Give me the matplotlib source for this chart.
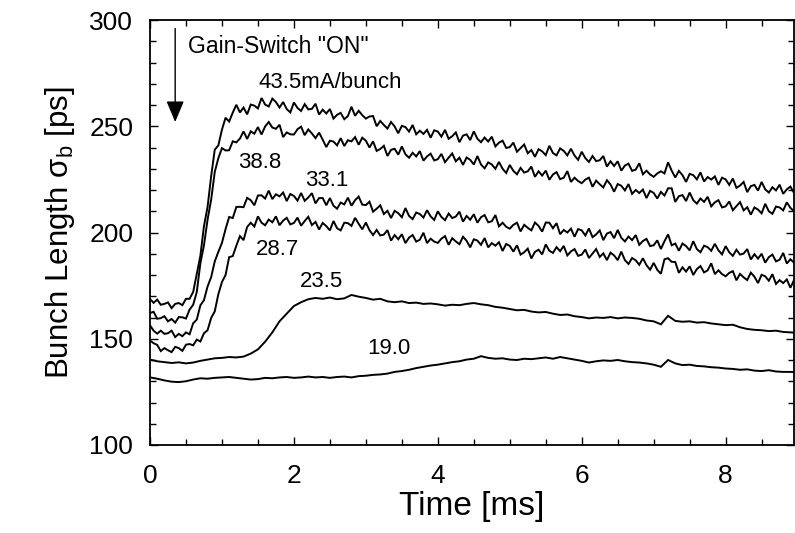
import numpy as np
import matplotlib
matplotlib.use("Agg")
import matplotlib.pyplot as plt
from matplotlib.ticker import MultipleLocator

plt.rcParams['font.family'] = ['Liberation Sans', 'DejaVu Sans']
plt.rcParams['mathtext.fontset'] = 'custom'
plt.rcParams['mathtext.rm'] = 'Liberation Sans'
plt.rcParams['mathtext.it'] = 'Liberation Sans:italic'

# Sampling grids of the recorded traces [ms]
STEP_FINE = 0.05
STEP_COARSE = 0.1
time_fine = np.round(np.arange(180) * STEP_FINE, 2)
time_coarse = np.round(np.arange(91) * STEP_COARSE, 2)

# Bunch length sigma_b [ps] per stored current
current_labels = ["43.5mA/bunch", "38.8", "33.1", "28.7", "23.5", "19.0"]

sigma_435 = [
    168.7, 166.9, 168.4, 166.0, 166.4, 167.1, 164.4, 166.4, 166.8, 165.8, 168.8, 168.8, 172.0, 180.5, 189.0, 203.0, 212.0, 226.5, 239.0, 241.0,
    248.4, 254.0, 252.2, 256.4, 260.1, 256.5, 258.8, 255.6, 260.2, 259.7, 258.4, 263.3, 260.2, 259.3, 263.0, 261.4, 258.8, 261.4, 258.1, 256.5,
    261.2, 258.6, 257.2, 260.4, 257.9, 258.2, 260.6, 255.5, 257.8, 256.0, 258.1, 253.6, 255.4, 256.3, 253.3, 254.8, 259.2, 254.9, 257.3, 255.2,
    253.6, 254.6, 254.8, 250.0, 252.5, 250.6, 248.9, 252.0, 249.9, 246.7, 250.2, 249.6, 247.5, 250.6, 246.2, 247.9, 246.4, 248.3, 244.6, 248.1,
    247.5, 245.1, 248.3, 244.1, 245.3, 247.1, 242.5, 245.6, 246.2, 243.5, 247.6, 244.1, 242.5, 244.7, 242.8, 245.1, 240.5, 242.3, 243.2, 239.8,
    240.2, 242.3, 238.0, 239.7, 241.4, 237.3, 238.8, 235.6, 239.2, 238.2, 236.4, 240.8, 237.4, 236.3, 239.6, 238.4, 236.3, 239.4, 236.2, 234.2,
    238.0, 235.0, 233.2, 236.0, 233.6, 234.0, 236.0, 231.0, 233.5, 231.3, 233.5, 229.1, 231.5, 232.4, 229.0, 229.6, 232.6, 227.4, 229.1, 227.3,
    226.2, 227.8, 228.8, 227.8, 233.0, 229.1, 225.9, 229.0, 227.0, 223.8, 227.6, 227.0, 225.0, 228.3, 224.0, 226.1, 224.9, 226.4, 222.4, 225.8,
    225.0, 222.4, 225.4, 221.0, 222.1, 223.8, 219.0, 221.8, 222.4, 219.7, 223.8, 220.3, 218.8, 221.3, 219.8, 222.5, 218.2, 220.3, 221.6, 218.6,
]

sigma_388 = [
    162.1, 162.7, 159.4, 159.7, 160.6, 158.2, 159.3, 157.6, 160.2, 160.1, 159.5, 163.7, 166.0, 172.0, 185.5, 194.0, 206.0, 215.5, 228.5, 235.0,
    239.7, 238.6, 238.7, 242.9, 242.4, 244.2, 247.6, 244.0, 247.6, 246.5, 249.6, 246.1, 249.9, 252.0, 249.4, 248.8, 250.7, 244.9, 247.1, 246.2,
    246.1, 248.6, 249.8, 245.8, 248.5, 246.6, 244.4, 247.0, 243.7, 240.2, 243.2, 242.8, 241.0, 244.4, 240.7, 243.4, 242.9, 244.9, 241.3, 244.6,
    243.2, 240.0, 242.9, 238.4, 239.3, 240.8, 236.0, 238.9, 239.4, 236.6, 240.5, 236.8, 235.2, 237.5, 235.8, 238.3, 233.8, 235.8, 237.1, 233.9,
    234.5, 237.0, 233.1, 235.2, 237.2, 233.5, 235.2, 231.8, 235.3, 234.2, 232.0, 236.0, 232.0, 230.2, 233.0, 232.0, 230.0, 233.2, 230.0, 228.0,
    231.8, 229.0, 227.4, 230.4, 228.2, 228.8, 231.0, 226.2, 228.8, 226.8, 229.1, 224.8, 227.3, 228.4, 225.1, 225.8, 228.9, 223.8, 225.8, 224.2,
    223.2, 224.9, 225.8, 221.5, 224.4, 222.7, 221.2, 224.6, 222.6, 219.2, 222.8, 222.0, 219.8, 222.8, 218.2, 220.0, 218.6, 220.2, 216.2, 219.6,
    218.6, 216.0, 219.1, 217.4, 220.8, 220.8, 214.4, 217.1, 217.6, 214.8, 218.8, 215.2, 213.6, 216.0, 214.4, 216.8, 212.3, 214.2, 215.2, 211.8,
    212.3, 214.6, 210.5, 212.4, 214.3, 210.4, 211.9, 208.4, 211.8, 210.8, 209.0, 213.5, 210.0, 208.8, 212.2, 211.8, 210.4, 214.2, 211.6, 210.0,
]

sigma_331 = [
    156.3, 153.8, 152.4, 153.8, 152.3, 152.6, 153.8, 150.8, 152.3, 151.2, 153.0, 152.1, 157.3, 159.0, 165.7, 168.2, 174.6, 179.0, 186.4, 190.9,
    195.1, 201.6, 207.3, 206.8, 212.0, 212.1, 211.9, 216.3, 215.2, 212.8, 217.4, 217.5, 216.0, 219.7, 215.7, 218.0, 217.0, 218.8, 214.8, 218.1,
    217.2, 215.0, 218.6, 214.9, 216.5, 218.5, 213.7, 216.2, 216.2, 212.8, 216.2, 212.6, 211.2, 214.1, 213.2, 216.4, 212.6, 215.2, 216.9, 213.1,
    212.9, 214.5, 209.8, 211.2, 212.8, 208.7, 210.2, 206.8, 210.2, 209.1, 207.2, 211.5, 207.8, 206.3, 209.4, 208.7, 207.0, 210.5, 207.6, 205.9,
    210.0, 207.3, 205.8, 208.9, 206.8, 207.5, 209.8, 205.1, 207.8, 206.0, 208.6, 204.6, 207.2, 208.2, 204.8, 205.3, 208.2, 202.9, 204.6, 202.7,
    201.8, 203.6, 204.6, 200.5, 203.6, 202.2, 201.0, 204.7, 203.1, 200.4, 204.7, 204.6, 202.0, 204.4, 199.2, 201.2, 200.0, 201.8, 198.0, 201.6,
    201.0, 198.6, 201.9, 197.8, 199.1, 201.0, 196.4, 199.5, 200.2, 197.3, 201.2, 197.5, 195.8, 198.1, 196.4, 198.8, 194.2, 196.0, 197.0, 193.6,
    194.0, 196.3, 192.2, 195.9, 199.1, 194.0, 194.8, 191.4, 194.8, 193.6, 191.6, 195.9, 192.2, 190.7, 193.8, 193.1, 191.4, 194.7, 191.6, 189.7,
    193.6, 190.7, 189.0, 191.9, 189.6, 190.1, 192.2, 187.3, 189.8, 187.7, 190.0, 185.8, 188.4, 189.6, 186.4, 187.2, 190.4, 185.4, 187.4, 185.8,
]

sigma_287 = [
    149.2, 147.9, 147.1, 144.2, 145.6, 144.6, 143.7, 146.2, 145.6, 144.3, 147.2, 147.5, 146.9, 149.6, 148.7, 152.6, 154.0, 159.8, 162.9, 171.0,
    176.7, 180.0, 188.4, 188.9, 193.8, 198.3, 196.4, 202.6, 204.6, 202.8, 207.6, 204.6, 203.4, 206.1, 204.8, 207.6, 203.4, 205.6, 206.9, 203.8,
    204.5, 207.0, 203.2, 205.4, 207.4, 203.5, 205.0, 201.4, 204.5, 203.0, 201.0, 205.4, 202.0, 201.0, 204.6, 204.4, 203.1, 206.9, 204.1, 201.5,
    204.7, 201.1, 198.8, 201.2, 198.6, 199.0, 201.1, 196.2, 198.8, 196.8, 199.2, 195.0, 197.6, 198.8, 195.7, 196.6, 199.9, 195.0, 197.1, 195.7,
    195.1, 197.1, 198.3, 194.2, 197.3, 195.8, 194.5, 198.0, 196.1, 193.0, 196.8, 196.2, 194.2, 197.4, 193.0, 195.0, 193.8, 195.4, 191.3, 194.6,
    193.7, 191.0, 194.0, 189.6, 190.7, 192.4, 187.8, 190.9, 191.9, 189.7, 194.4, 191.4, 190.4, 193.1, 191.2, 193.7, 189.2, 191.1, 192.2, 189.0,
    189.6, 192.0, 188.0, 190.1, 192.2, 188.5, 190.2, 187.0, 190.5, 189.2, 187.0, 191.0, 187.0, 185.2, 188.0, 186.9, 184.8, 187.9, 184.6, 182.5,
    185.7, 182.4, 180.6, 187.4, 187.9, 186.2, 186.1, 181.0, 183.6, 181.6, 184.1, 180.0, 182.8, 184.2, 181.2, 182.2, 185.5, 180.4, 182.2, 180.4,
    179.4, 181.0, 181.8, 177.5, 180.5, 178.9, 177.6, 181.1, 179.2, 176.2, 180.1, 179.4, 177.3, 180.4, 175.8, 177.6, 176.2, 177.9, 174.0, 177.6,
]

sigma_235 = [
    140.2, 139.4, 139.0, 138.6, 138.9, 138.4, 138.8, 139.6, 140.2, 140.8,
    141.0, 141.4, 141.2, 141.6, 143.0, 145.0, 148.6, 153.0, 158.2, 161.8,
    165.4, 167.2, 168.6, 169.2, 168.8, 169.4, 168.6, 169.0, 170.6, 169.8,
    169.2, 168.4, 168.8, 167.6, 167.2, 167.6, 166.8, 167.0, 166.4, 166.6,
    166.2, 165.6, 166.0, 165.8, 166.4, 166.8, 166.2, 165.8, 165.0, 164.6,
    164.0, 163.4, 163.6, 162.8, 162.4, 162.6, 161.8, 161.2, 161.4, 160.6,
    160.2, 159.6, 160.0, 159.8, 160.2, 159.6, 160.0, 159.8, 159.4, 158.6,
    158.2, 156.8, 160.8, 158.4, 158.0, 158.2, 157.6, 157.8, 157.2, 156.8,
    156.4, 156.6, 155.4, 154.6, 154.2, 154.0, 153.6, 153.8, 153.2, 153.0, 152.8,
]

sigma_190 = [
    131.8, 131.2, 130.4, 129.8, 129.6, 130.0, 130.8, 131.4, 131.2, 131.6,
    131.8, 132.0, 131.6, 131.2, 130.8, 131.0, 131.6, 131.4, 131.8, 132.0,
    131.6, 131.8, 132.2, 131.8, 132.0, 131.6, 132.0, 132.2, 131.8, 132.4,
    132.6, 133.0, 133.2, 133.6, 134.4, 134.8, 135.4, 136.2, 136.8, 137.4,
    137.8, 138.4, 139.0, 139.4, 140.2, 140.6, 141.8, 141.0, 140.6, 140.8,
    140.2, 140.0, 140.6, 140.4, 140.8, 141.2, 140.6, 141.4, 140.8, 140.2,
    139.6, 138.8, 139.4, 139.8, 139.6, 140.0, 139.4, 139.0, 138.8, 138.4,
    137.8, 136.8, 140.0, 138.4, 137.6, 137.8, 137.2, 137.0, 136.6, 136.4,
    136.0, 135.8, 135.4, 135.6, 135.0, 134.8, 135.2, 134.6, 134.4, 134.4, 134.2,
]

x_ticks = [0, 2, 4, 6, 8]
y_ticks = [100, 150, 200, 250, 300]

fig = plt.figure(figsize=(7.95, 5.33), dpi=100)
ax = fig.add_axes([150 / 795, 88 / 533, 644 / 795, 425 / 533])

traces = [
    (time_fine, sigma_435),
    (time_fine, sigma_388),
    (time_fine, sigma_331),
    (time_fine, sigma_287),
    (time_coarse, sigma_235),
    (time_coarse, sigma_190),
]
for t, s in traces:
    ax.plot(t, s, color='black', lw=1.4, solid_joinstyle='miter')

ax.set_xlim(0, 8.95)
ax.set_ylim(100, 300)
ax.set_xticks(x_ticks)
ax.set_yticks(y_ticks)
ax.xaxis.set_minor_locator(MultipleLocator(0.5))
ax.yaxis.set_minor_locator(MultipleLocator(10))
ax.tick_params(which='both', direction='in', top=True, right=True, width=1.0, colors='black')
ax.tick_params(which='major', length=6)
ax.tick_params(which='minor', length=4)
ax.tick_params(axis='both', which='major', labelsize=19)
ax.tick_params(axis='y', pad=12)
ax.tick_params(axis='x', pad=14)
for sp in ax.spines.values():
    sp.set_linewidth(1.3)

ax.set_xlabel('Time [ms]', fontsize=24, labelpad=2)
ax.set_ylabel('Bunch Length σ$_{\\rm b}$ [ps]', fontsize=22.5, labelpad=9)

# Current labels beside each trace
label_pos = [(2.5, 270.8), (1.53, 233.0), (2.46, 224.7), (1.77, 192.0), (2.39, 177.0), (3.32, 145.6)]
for text, (lx, ly) in zip(current_labels, label_pos):
    ax.text(lx, ly, text, fontsize=16, ha='center', va='center')

# Gain switch marker
ax.text(0.53, 287.3, 'Gain-Switch "ON"', fontsize=16.5, ha='left', va='center')
ax.annotate('', xy=(0.35, 252), xytext=(0.35, 296),
            arrowprops=dict(arrowstyle='-|>,head_length=1.0,head_width=0.42',
                            mutation_scale=13, lw=1.0, color='black',
                            shrinkA=0, shrinkB=0))

fig.savefig('out.png', dpi=100)
